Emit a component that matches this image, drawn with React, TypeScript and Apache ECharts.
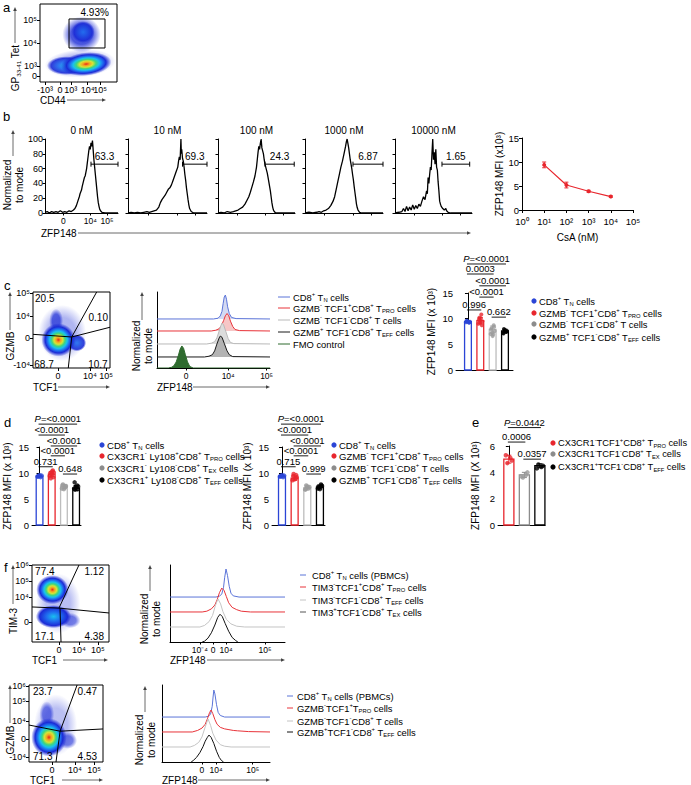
import React, { useEffect, useRef } from 'react';
import * as echarts from 'echarts';

const FONT = '"Liberation Sans", Arial, Helvetica, sans-serif';
const BLUE = '#2b45d6';
const RED = '#e8262d';
const GRAY_BAR = '#bdbdbd';
const GRAY_DOT = '#9b9b9b';
const BLACK = '#000000';
const JET = ['#1b2bd6', '#1f6ff0', '#19c0ee', '#3fd67c', '#d6e436', '#f6a01e', '#e6261c'];
const SUP = ['⁰', '¹', '²', '³', '⁴', '⁵', '⁶'];

type Tick = [number, string];

// ---------------- Panel a (flow) ----------------
const aXTicks: Tick[] = [[6.5, '-10³'], [26, '0'], [40, '10³'], [62, '10⁴'], [78, '10⁵'], [91, '10⁶']];
const aYTicks: Tick[] = [[7.7, '0'], [20.5, '10³'], [50, '10⁴'], [79.5, '10⁵']];
// density clusters: [cx, cy, w, h, peak level, rotation, alpha]
const aDensity = [
  [52, 24, 92, 36, 0, 4, 0.35],
  [54, 61, 50, 46, 0, 0, 0.8],
  [56, 64, 30, 28, 1, 0, 0.9],
  [34, 21, 50, 24, 2, 0, 0.9],
  [60, 23, 66, 30, 6, 6, 1],
];
const aGate = [37.7, 43.6, 84.4, 80.8];
const aGateLabel = [[71, 89, '4.93%']];

// ---------------- Panel b ----------------
const bTitles = ['0 nM', '10 nM', '100 nM', '1000 nM', '10000 nM'];
const bXTicks: Tick[] = [[25, '0'], [62, '10⁴'], [85, '10⁵']];
const bHist0 = [[0, 1], [3, 2], [6, 0], [9, 2], [12, 1], [15, 2], [18, 1], [21, 3], [24, 1], [27, 2], [30, 1], [33, 3], [36, 2], [39, 4], [41, 6], [43, 10], [45, 16], [47, 22], [48, 26], [50, 31], [51, 36], [52, 40], [53, 44], [54, 48], [55, 50], [56, 55], [57, 60], [58, 68], [59, 76], [60, 84], [61, 90], [62, 86], [63, 95], [64, 90], [65, 98], [65.5, 92], [66, 85], [67, 72], [68, 62], [69, 52], [70, 42], [71, 32], [72, 22], [73, 14], [74, 9], [75, 5], [76, 3], [78, 1], [82, 0], [100, 0]];
const bHist1 = [[0, 0], [4, 1], [8, 0], [12, 1], [16, 0], [20, 1], [24, 2], [27, 1], [30, 2], [33, 3], [36, 4], [39, 8], [41, 14], [43, 18], [45, 21], [47, 24], [49, 28], [51, 32], [53, 34], [55, 38], [57, 44], [59, 50], [61, 56], [63, 62], [64, 70], [65, 76], [66, 72], [67, 100], [67.5, 80], [68, 86], [69, 74], [70, 70], [71, 62], [72, 52], [73, 44], [74, 34], [75, 26], [76, 18], [77, 11], [78, 6], [80, 2], [83, 0], [100, 0]];
const bHist2 = [[0, 0], [4, 1], [8, 0], [12, 2], [16, 1], [20, 2], [23, 3], [26, 4], [29, 6], [32, 8], [35, 12], [38, 18], [40, 22], [42, 28], [44, 35], [46, 42], [48, 50], [50, 62], [51, 72], [52, 82], [53, 90], [54, 86], [55, 94], [56, 100], [57, 88], [58, 84], [59, 80], [60, 72], [61, 66], [62, 62], [63, 58], [64, 54], [65, 48], [66, 42], [67, 36], [68, 30], [69, 22], [70, 14], [71, 8], [72, 4], [73, 2], [75, 0], [100, 0]];
const bHist3 = [[0, 0], [5, 1], [10, 0], [15, 1], [18, 2], [21, 1], [24, 3], [27, 4], [30, 6], [33, 10], [36, 16], [38, 22], [40, 32], [42, 42], [44, 52], [46, 62], [48, 70], [50, 80], [52, 90], [53, 96], [54, 100], [55, 94], [56, 88], [57, 80], [58, 72], [59, 66], [60, 60], [61, 52], [62, 45], [63, 36], [64, 28], [65, 20], [66, 12], [67, 7], [68, 4], [70, 1], [73, 0], [100, 0]];
const bHist4 = [[0, 0], [5, 1], [9, 2], [11, 6], [13, 2], [15, 9], [17, 3], [19, 8], [21, 4], [23, 11], [25, 5], [27, 10], [29, 6], [31, 12], [33, 9], [35, 16], [37, 22], [39, 18], [41, 30], [42, 26], [43, 48], [44, 40], [45, 52], [46, 62], [47, 58], [48, 80], [49, 100], [50, 72], [51, 82], [52, 66], [53, 86], [54, 62], [55, 58], [56, 42], [57, 30], [58, 16], [59, 12], [60, 9], [62, 6], [64, 4], [66, 6], [67, 3], [69, 1], [72, 0], [100, 0]];
const bGateX1 = [63, 69, 61, 61.5, 61];
const bGateX2 = [100, 100, 99, 100, 97];
const bGateY = [66, 66, 66, 66, 66];
const bGateLabels = ['63.3', '69.3', '24.3', '6.87', '1.65'];

const bConc = [10, 100, 1000, 10000];
const bMFI = [9.4, 5.2, 3.9, 2.8];
const bSD = [0.6, 0.6, 0.2, 0.15];

// ---------------- Panel c ----------------
const cFlowXTicks: Tick[] = [[32.5, '0'], [74, '10⁴'], [95, '10⁵']];
const cFlowYTicks: Tick[] = [[4, '-10⁴'], [39.5, '0'], [68.4, '10⁴'], [98.7, '10⁵']];
const cDensity = [
  [38, 46, 62, 74, 0, 0, 0.35],
  [30, 62, 18, 32, 0, 0, 0.7],
  [57, 33, 24, 22, 1, 0, 0.9],
  [33, 37, 44, 44, 6, 0, 1],
];
const cGate = [[0, 44.3, 50.3, 40.8], [50.3, 40.8, 82.7, 100], [50.3, 40.8, 100, 53.6], [50.3, 40.8, 45.8, 0]];
const cQuad = [[2.6, 92, '20.5'], [97.4, 67, '0.10'], [1.7, 4, '68.7'], [97, 4, '10.7']];

const cHistXTicks: Tick[] = [[25.7, '0'], [63, '10⁴'], [97, '10⁵']];
const cBase = [64.5, 48.7, 31.6, 14.5, 0];
const cHistBlue = [[0, 0], [50, 0], [54, 1], [56, 4], [57.5, 10], [58.5, 20], [59.5, 29], [60.5, 31.5], [61.5, 26], [62.5, 16], [64, 7], [66, 2], [70, 0.5], [100, 0]];
const cHistRed = [[0, 0], [48, 0], [52, 1], [55, 3], [57, 7], [59, 14], [60.5, 20], [62, 23], [63.5, 20], [65, 13], [67, 6], [69, 2], [73, 0.5], [100, 0]];
const cHistGray = [[0, 0], [44, 0], [48, 1], [51, 3], [53, 8], [55, 17], [56.5, 24], [57.5, 27.5], [59, 25], [61, 16], [63, 7], [65, 2], [68, 0.5], [100, 0]];
const cHistBlack = [[0, 0], [42, 0], [46, 1], [49, 3], [51, 8], [53, 17], [55, 25], [56, 27.5], [57.5, 26], [59.5, 18], [62, 8], [64, 3], [67, 0.5], [100, 0]];
const cHistGreen = [[0, 0], [10, 0], [13, 1], [15, 3], [17, 8], [19, 17], [20.5, 25], [22, 29], [23.5, 26], [25, 18], [27, 8], [29, 2], [32, 0], [100, 0]];
const cHistLegend = ['CD8{sup|+} T{sub|N} cells', 'GZMB{sup|-} TCF1{sup|+}CD8{sup|+} T{sub|PRO} cells', 'GZMB{sup|-} TCF1{sup|-}CD8{sup|+} T cells', 'GZMB{sup|+} TCF1{sup|-}CD8{sup|+} T{sub|EFF} cells', 'FMO control'];

const cMeans = [9.4, 9.6, 7.9, 7.6];
const cSD = [0.15, 0.6, 0.7, 0.35];
const cPts = [
  [9.3, 9.4, 9.5, 9.2, 9.4, 9.6, 9.3, 9.5],
  [9.0, 9.5, 10.2, 10.8, 9.2, 9.8, 8.7, 9.6, 10.1],
  [7.0, 7.6, 8.2, 8.7, 6.6, 7.9, 8.4, 7.3, 6.9],
  [7.2, 7.6, 8.0, 7.4, 7.8, 7.1, 7.5, 7.7],
];
const cBrackets = [[0, 3, 20.65, 'P=<0.0001'], [0, 2, 18.7, '0.0003'], [1, 3, 16.4, '<0.0001'], [1, 2, 14.2, '<0.0001'], [0, 1, 11.7, '0.996'], [2, 3, 10.3, '0.662']];
const cBarLegend = ['CD8{sup|+} T{sub|N} cells', 'GZMB{sup|-} TCF1{sup|+}CD8{sup|+} T{sub|PRO} cells', 'GZMB{sup|-} TCF1{sup|-}CD8{sup|+} T cells', 'GZMB{sup|+} TCF1{sup|-}CD8{sup|+} T{sub|EFF} cells'];

// ---------------- Panel d ----------------
const d1Means = [9.4, 9.8, 7.4, 7.1];
const d1SD = [0.15, 0.5, 0.4, 0.5];
const d1Pts = [
  [9.3, 9.5, 9.4, 9.2, 9.6, 9.4],
  [9.4, 10.1, 9.0, 10.5, 9.7, 10.0, 9.2, 9.9, 10.3],
  [7.0, 7.5, 7.8, 7.2, 6.9, 7.6, 7.4],
  [7.0, 7.4, 6.8, 7.6, 7.2, 8.2, 6.9, 7.3],
];
const d1Brackets = [[0, 3, 19.4, 'P=<0.0001'], [0, 2, 17.3, '<0.0001'], [1, 3, 15.2, '<0.0001'], [1, 2, 13.3, '<0.0001'], [0, 1, 11.2, '0.731'], [2, 3, 9.8, '0.648']];
const d1Legend = ['CD8{sup|+} T{sub|N} cells', 'CX3CR1{sup|-} Ly108{sup|+}CD8{sup|+} T{sub|PRO} cells', 'CX3CR1{sup|-} Ly108{sup|-}CD8{sup|+} T{sub|EX} cells', 'CX3CR1{sup|+} Ly108{sup|-}CD8{sup|+} T{sub|EFF} cells'];

const d2Means = [9.4, 9.0, 7.2, 7.3];
const d2SD = [0.15, 0.4, 0.3, 0.35];
const d2Pts = [
  [9.3, 9.5, 9.4, 9.2, 9.6, 9.4],
  [8.6, 9.2, 9.8, 9.0, 8.8, 9.4, 9.6],
  [6.8, 7.3, 7.6, 7.0, 7.4, 6.9],
  [7.0, 7.5, 7.2, 7.8, 6.9, 7.4, 7.6],
];
const d2Brackets = [[0, 3, 19.4, 'P=<0.0001'], [0, 2, 17.3, '<0.0001'], [1, 3, 15.2, '<0.0001'], [1, 2, 13.3, '<0.0001'], [0, 1, 11.2, '0.715'], [2, 3, 9.8, '0.999']];
const d2Legend = cBarLegend;

// ---------------- Panel e ----------------
const eMeans = [5.0, 3.8, 4.5];
const eSD = [0.3, 0.2, 0.15];
const ePts = [
  [5.3, 4.9, 4.7, 5.1],
  [3.7, 4.0, 3.6, 3.8],
  [4.3, 4.5, 4.6, 4.4],
];
const eBrackets = [[0, 2, 7.4, 'P=0.0442'], [0, 1, 6.3, '0.0006'], [1, 2, 5.0, '0.0357']];
const eLegend = ['CX3CR1{sup|-}TCF1{sup|+}CD8{sup|+} T{sub|PRO} cells', 'CX3CR1{sup|-}TCF1{sup|-}CD8{sup|+} T{sub|EX} cells', 'CX3CR1{sup|+}TCF1{sup|-}CD8{sup|+} T{sub|EFF} cells'];

// ---------------- Panel f ----------------
const fTopXTicks: Tick[] = [[35, '0'], [61, '10⁴'], [85.7, '10⁵']];
const fTopYTicks: Tick[] = [[26, '0'], [58.4, '10⁴'], [79, '10⁵'], [100, '10⁶']];
const fTopDensity = [
  [34, 50, 58, 78, 0, 0, 0.3],
  [50, 28, 26, 20, 0, 0, 0.6],
  [28, 33, 46, 30, 2, 0, 1],
  [26.5, 68, 42, 38, 6, 0, 1],
];
const fTopGate = [[0, 45.5, 35, 44], [35, 44, 100, 37.7], [35, 44, 61, 100], [36.4, 44, 37.7, 0]];
const fTopQuad = [[4, 91, '77.4'], [93.5, 91, '1.12'], [4, 6.5, '17.1'], [93.5, 6.5, '4.38']];
const fTopHistXTicks: Tick[] = [[26, '10⁻⁴'], [37.4, '0'], [48.7, '10⁴'], [82.6, '10⁵']];
const fBase = [58.4, 39, 19.5, 0];
const fTopBlue = [[0, 0], [40, 0], [43, 1], [45, 4], [46.5, 12], [47.5, 25], [48.7, 36.4], [50, 28], [51.5, 14], [53, 5], [55, 1.5], [60, 0], [100, 0]];
const fTopRed = [[0, 0], [28, 0], [32, 1], [36, 4], [39, 9], [41, 16], [43, 25], [45, 31], [47, 28], [49, 20], [51, 12], [54, 6], [58, 3], [62, 1], [70, 0], [100, 0]];
const fTopGray = [[0, 0], [26, 0], [30, 2], [34, 7], [37, 15], [39.5, 28], [41.7, 36.5], [44, 30], [46, 20], [49, 10], [53, 4], [58, 1], [65, 0], [100, 0]];
const fTopBlack = [[28, 0], [30, 1], [33, 5], [36, 12], [39, 22], [41.5, 32], [43.5, 36], [45.5, 33], [48, 24], [51, 14], [54, 6], [57, 2], [59, 0]];
const fTopLegend = ['CD8{sup|+} T{sub|N} cells (PBMCs)', 'TIM3{sup|-}TCF1{sup|+}CD8{sup|+} T{sub|PRO} cells', 'TIM3{sup|-}TCF1{sup|-}CD8{sup|+} T{sub|EFF} cells', 'TIM3{sup|+}TCF1{sup|-}CD8{sup|+} T{sub|EX} cells'];

const fBotXTicks: Tick[] = [[31, '0'], [62, '10⁴'], [88, '10⁵']];
const fBotYTicks: Tick[] = [[6.5, '-10⁴'], [30, '0'], [53, '10⁴'], [79, '10⁵'], [98.7, '10⁶']];
const fBotDensity = [
  [36, 48, 58, 80, 0, 0, 0.3],
  [24, 62, 20, 34, 0, 0, 0.6],
  [52, 28, 26, 22, 0, 0, 0.6],
  [27, 32, 48, 50, 6, 0, 1],
];
const fBotGate = [[0, 48, 42, 40], [42, 40, 100, 42.9], [42, 40, 65, 100], [42, 40, 36.5, 0]];
const fBotQuad = [[5.4, 91, '23.7'], [92, 91, '0.47'], [5.4, 6.5, '71.3'], [92, 6.5, '4.53']];
const fBotHistXTicks: Tick[] = [[27.8, '10⁻⁴'], [37, '0'], [50, '10⁴'], [84, '10⁵']];
const fBotBlue = [[0, 0], [40, 0], [43, 1], [45, 4], [46.5, 14], [47.3, 26], [48, 35], [49, 30], [50.5, 16], [52, 6], [54, 2], [58, 0], [100, 0]];
const fBotRed = [[0, 0], [28, 0], [33, 2], [37, 5], [40, 10], [42, 17], [44, 25], [45.4, 28.5], [47, 24], [49, 16], [51, 10], [54, 6], [58, 4], [62, 3], [66, 2], [70, 1.5], [75, 1], [80, 0.5], [100, 0]];
const fBotGray = [[0, 0], [26, 0], [30, 2], [34, 6], [37, 13], [40, 26], [42.6, 36.5], [45, 28], [47, 18], [50, 9], [54, 3], [58, 1], [64, 0], [100, 0]];
const fBotBlack = [[27, 0], [29, 2], [32, 6], [35, 12], [38, 20], [40, 27], [42, 32], [43.5, 35], [45.5, 32], [48, 24], [50.5, 14], [53, 6], [55, 2], [57, 0]];
const fBotLegend = ['CD8{sup|+} T{sub|N} cells (PBMCs)', 'GZMB{sup|-}TCF1{sup|+}T{sub|PRO} cells', 'GZMB{sup|-}TCF1{sup|-}CD8{sup|+} T cells', 'GZMB{sup|+}TCF1{sup|-}CD8{sup|+} T{sub|EFF} cells'];

// ------------------------------------------------------------
const JIT = [-0.3, 0.3, -0.15, 0.15, 0, -0.22, 0.22, -0.07, 0.07, 0.36, -0.36];

const tickFmt = (ticks: Tick[]) => (v: number) => {
  const t = ticks.find((k) => Math.abs(k[0] - v) < 1e-6);
  return t ? t[1] : '';
};

const RICH = (size: number) => ({
  sup: { fontSize: size * 0.62, lineHeight: 6, verticalAlign: 'top', fontFamily: FONT, fill: '#000', color: '#000' },
  sub: { fontSize: size * 0.62, lineHeight: 6, verticalAlign: 'bottom', fontFamily: FONT, fill: '#000', color: '#000' },
  i: { fontStyle: 'italic', fontSize: size, fontFamily: FONT, fill: '#000', color: '#000' },
});

const densityGradient = (peak: number) => {
  const stops: any[] = [];
  if (peak === 0) {
    stops.push({ offset: 0, color: JET[0] }, { offset: 0.55, color: JET[0] });
  } else {
    for (let l = peak; l >= 0; l--) {
      stops.push({ offset: ((peak - l) / peak) * 0.78, color: JET[l] });
    }
  }
  stops.push({ offset: 1, color: 'rgba(27,43,214,0)' });
  return { type: 'radial', x: 0.5, y: 0.5, r: 0.5, colorStops: stops };
};

function buildOption(): any {
  const grid: any[] = [];
  const xAxis: any[] = [];
  const yAxis: any[] = [];
  const series: any[] = [];
  const g: any[] = [];

  const addGrid = (left: number, top: number, width: number, height: number, xa: any, ya: any, border = false) => {
    const i = grid.length;
    grid.push({ left, top, width, height, show: border, borderColor: '#000', borderWidth: 1, containLabel: false });
    xAxis.push({ gridIndex: i, ...xa });
    yAxis.push({ gridIndex: i, ...ya });
    return i;
  };
  const lbl = (size = 9) => ({ fontSize: size, color: '#000', fontFamily: FONT });
  const flowAxis = (ticks: Tick[]) => ({
    type: 'value', min: 0, max: 100,
    axisLine: { show: false }, splitLine: { show: false },
    axisTick: { show: true, length: 3, customValues: ticks.map((t) => t[0]), lineStyle: { color: '#000' } },
    axisLabel: { show: true, margin: 3, customValues: ticks.map((t) => t[0]), formatter: tickFmt(ticks), ...lbl(9) },
  });
  const histX = (ticks: Tick[], labels: boolean) => ({
    type: 'value', min: 0, max: 100,
    axisLine: { show: true, lineStyle: { color: '#000', width: 1 } }, splitLine: { show: false },
    axisTick: { show: true, length: 2.5, customValues: ticks.map((t) => t[0]), lineStyle: { color: '#000' } },
    axisLabel: { show: labels, margin: 3, customValues: ticks.map((t) => t[0]), formatter: tickFmt(ticks), ...lbl(8.5) },
  });
  const histY = (labels: boolean, ticks: boolean) => ({
    type: 'value', min: 0, max: 100, interval: 20,
    axisLine: { show: true, lineStyle: { color: '#000', width: 1 } }, splitLine: { show: false },
    axisTick: { show: ticks, length: 2.5, lineStyle: { color: '#000' } },
    axisLabel: { show: labels, margin: 2, ...lbl(9) },
  });

  const segSeries = (gi: number, segs: number[][], color: string, width: number) => ({
    type: 'custom', xAxisIndex: gi, yAxisIndex: gi, silent: true, z: 6, clip: false,
    data: segs.map((s) => [s[0], s[1], s[2], s[3]]),
    renderItem: (p: any, api: any) => {
      const a = api.coord([api.value(0), api.value(1)]);
      const b = api.coord([api.value(2), api.value(3)]);
      return { type: 'line', shape: { x1: a[0], y1: a[1], x2: b[0], y2: b[1] }, style: { stroke: color, lineWidth: width } };
    },
  });
  const textSeries = (gi: number, items: any[], size: number, align?: string) => ({
    type: 'custom', xAxisIndex: gi, yAxisIndex: gi, silent: true, z: 8, clip: false,
    data: items.map((t) => [t[0], t[1]]),
    renderItem: (p: any, api: any) => {
      const it = items[p.dataIndex];
      const c = api.coord([api.value(0), api.value(1)]);
      const al = align || (it[0] < 50 ? 'left' : 'right');
      return { type: 'text', x: c[0], y: c[1], style: { text: it[2], fontSize: size, fontFamily: FONT, fill: '#000', align: al, verticalAlign: 'middle', textAlign: al, textVerticalAlign: 'middle' } };
    },
  });
  const densitySeries = (gi: number, dens: number[][], w: number, h: number) => ({
    type: 'scatter', xAxisIndex: gi, yAxisIndex: gi, silent: true, z: 2,
    data: dens.map((b) => ({
      value: [b[0], b[1]],
      symbolSize: [(b[2] * w) / 100, (b[3] * h) / 100],
      symbolRotate: b[5],
      itemStyle: { color: densityGradient(b[4]), opacity: b[6] },
    })),
  });
  const histLine = (gi: number, pts: number[][], color: string, base: number, fill: string | null, z: number, width = 1) => ({
    type: 'line', xAxisIndex: gi, yAxisIndex: gi, silent: true, symbol: 'none', showSymbol: false, z,
    data: pts.map((p) => [p[0], p[1] + base]),
    lineStyle: { color, width },
    areaStyle: fill ? { color: fill, opacity: 1, origin: base } : undefined,
  });

  const flowPlot = (left: number, top: number, w: number, h: number, xt: Tick[], yt: Tick[], dens: number[][], gates: number[][], quads: any[]) => {
    const gi = addGrid(left, top, w, h, flowAxis(xt), flowAxis(yt), true);
    series.push(densitySeries(gi, dens, w, h));
    series.push(segSeries(gi, gates, '#000', 1));
    series.push(textSeries(gi, quads, 10));
    return gi;
  };

  const barPanel = (cfg: any) => {
    const { left, top, width, height, xmin, xmax, ymax, interval, yName, nameGap, means, sds, pts, colors, dotColors, brackets, barW, sym } = cfg;
    const gi = addGrid(left, top, width, height,
      { type: 'value', min: xmin, max: xmax, axisLine: { show: true, lineStyle: { color: '#000' } }, axisTick: { show: false }, axisLabel: { show: false }, splitLine: { show: false } },
      {
        type: 'value', min: 0, max: ymax, interval,
        axisLine: { show: true, lineStyle: { color: '#000' } }, axisTick: { show: true, length: 3, lineStyle: { color: '#000' } },
        axisLabel: { margin: 3, ...lbl(9.5) }, splitLine: { show: false },
        name: yName, nameLocation: 'middle', nameGap, nameTextStyle: { ...lbl(10) },
      });
    series.push({
      type: 'custom', xAxisIndex: gi, yAxisIndex: gi, silent: true, z: 2, clip: false,
      data: means.map((m: number, i: number) => [i, m]),
      renderItem: (p: any, api: any) => {
        const i = api.value(0); const m = api.value(1);
        const a = api.coord([i - barW / 2, m]);
        const b = api.coord([i + barW / 2, 0]);
        return { type: 'rect', shape: { x: a[0], y: a[1], width: b[0] - a[0], height: b[1] - a[1] }, style: { fill: '#fff', stroke: colors[p.dataIndex], lineWidth: 1.3 } };
      },
    });
    series.push({
      type: 'custom', xAxisIndex: gi, yAxisIndex: gi, silent: true, z: 3, clip: false,
      data: means.map((m: number, i: number) => [i, m - sds[i], m + sds[i]]),
      renderItem: (p: any, api: any) => {
        const i = api.value(0);
        const lo = api.coord([i, api.value(1)]); const hi = api.coord([i, api.value(2)]);
        const c = colors[p.dataIndex];
        const cw = 2.5;
        return { type: 'group', children: [
          { type: 'line', shape: { x1: lo[0], y1: lo[1], x2: hi[0], y2: hi[1] }, style: { stroke: c, lineWidth: 1 } },
          { type: 'line', shape: { x1: lo[0] - cw, y1: lo[1], x2: lo[0] + cw, y2: lo[1] }, style: { stroke: c, lineWidth: 1 } },
          { type: 'line', shape: { x1: hi[0] - cw, y1: hi[1], x2: hi[0] + cw, y2: hi[1] }, style: { stroke: c, lineWidth: 1 } },
        ] };
      },
    });
    pts.forEach((arr: number[], gIdx: number) => {
      series.push({
        type: 'scatter', xAxisIndex: gi, yAxisIndex: gi, silent: true, z: 4, symbol: 'circle', symbolSize: sym,
        itemStyle: { color: dotColors[gIdx] },
        data: arr.map((v, k) => [gIdx + JIT[k % JIT.length] * barW, v]),
      });
    });
    series.push({
      type: 'custom', xAxisIndex: gi, yAxisIndex: gi, silent: true, z: 5, clip: false,
      data: brackets.map((b: any[]) => [b[0], b[2]]),
      renderItem: (p: any, api: any) => {
        const b = brackets[p.dataIndex];
        const a = api.coord([b[0], b[2]]); const c = api.coord([b[1], b[2]]);
        const s = b[3] as string;
        const t = s.startsWith('P=') ? '{i|P}' + s.slice(1) : s;
        return { type: 'group', children: [
          { type: 'line', shape: { x1: a[0] - 1, y1: a[1], x2: c[0] + 1, y2: c[1] }, style: { stroke: '#000', lineWidth: 0.9 } },
          { type: 'text', x: (a[0] + c[0]) / 2, y: a[1] - 0.5, style: { text: t, rich: RICH(9.5), fontSize: 9.5, fontFamily: FONT, fill: '#000', align: 'center', verticalAlign: 'bottom', textAlign: 'center', textVerticalAlign: 'bottom' } },
        ] };
      },
    });
    return gi;
  };

  // graphic helpers
  const txt = (x: number, y: number, text: string, size = 10, align = 'left', rot = 0) => ({
    type: 'text', x, y, rotation: rot, silent: true, z: 100,
    style: { text, fontSize: size, fontFamily: FONT, fill: '#000', align, verticalAlign: 'middle', textAlign: align, textVerticalAlign: 'middle', lineHeight: size + 2, rich: RICH(size) },
  });
  const arrowH = (x1: number, x2: number, y: number) => [
    { type: 'line', silent: true, z: 100, shape: { x1, y1: y, x2: x2 - 3, y2: y }, style: { stroke: '#444', lineWidth: 0.8 } },
    { type: 'polygon', silent: true, z: 100, shape: { points: [[x2, y], [x2 - 4, y - 1.8], [x2 - 4, y + 1.8]] }, style: { fill: '#444' } },
  ];
  const arrowV = (x: number, y1: number, y2: number) => [
    { type: 'line', silent: true, z: 100, shape: { x1: x, y1, x2: x, y2: y2 + 3 }, style: { stroke: '#444', lineWidth: 0.8 } },
    { type: 'polygon', silent: true, z: 100, shape: { points: [[x, y2], [x - 1.8, y2 + 4], [x + 1.8, y2 + 4]] }, style: { fill: '#444' } },
  ];
  const legendDots = (x: number, ys: number[], texts: string[], colors: string[], size = 9.4) => {
    ys.forEach((y, i) => {
      g.push({ type: 'circle', silent: true, z: 100, shape: { cx: x, cy: y, r: 2.6 }, style: { fill: colors[i] } });
      g.push(txt(x + 5, y, texts[i], size));
    });
  };
  const legendLines = (x1: number, x2: number, tx: number, ys: number[], texts: string[], colors: string[], size = 9.4) => {
    ys.forEach((y, i) => {
      g.push({ type: 'line', silent: true, z: 100, shape: { x1, y1: y, x2, y2: y }, style: { stroke: colors[i], lineWidth: 1 } });
      g.push(txt(tx, y, texts[i], size));
    });
  };

  // ===== Panel a =====
  const aG = flowPlot(40, 4, 77, 78, aXTicks, aYTicks, aDensity, [
    [aGate[0], aGate[1], aGate[2], aGate[1]], [aGate[2], aGate[1], aGate[2], aGate[3]],
    [aGate[2], aGate[3], aGate[0], aGate[3]], [aGate[0], aGate[3], aGate[0], aGate[1]],
  ], []);
  series.push(textSeries(aG, aGateLabel, 10, 'center'));
  g.push(txt(3, 7, 'a', 13));
  g.push(txt(40, 100, 'CD44', 10));
  g.push(...arrowH(67, 106, 100));
  g.push(txt(15, 68, 'GP{sub|33-41} Tet', 10, 'center', Math.PI / 2));
  g.push(...arrowV(15, 43, 7));

  // ===== Panel b histograms =====
  const bLefts = [45, 128, 218, 305, 395];
  const bWidths = [73, 79, 77, 78, 77];
  const bHists = [bHist0, bHist1, bHist2, bHist3, bHist4];
  bHists.forEach((h, k) => {
    const gi = addGrid(bLefts[k], 139, bWidths[k], 74, histX(bXTicks, k === 0), histY(k === 0, true));
    series.push(histLine(gi, h, '#000', 0, null, 3, 1.3));
    series.push({
      type: 'custom', xAxisIndex: gi, yAxisIndex: gi, silent: true, z: 5, clip: false,
      data: [[bGateX1[k], bGateY[k], bGateX2[k]]],
      renderItem: (p: any, api: any) => {
        const a = api.coord([api.value(0), api.value(1)]);
        const b = api.coord([api.value(2), api.value(1)]);
        return { type: 'group', children: [
          { type: 'line', shape: { x1: a[0], y1: a[1], x2: b[0], y2: b[1] }, style: { stroke: '#000', lineWidth: 1 } },
          { type: 'line', shape: { x1: a[0], y1: a[1] - 2.5, x2: a[0], y2: a[1] + 2.5 }, style: { stroke: '#000', lineWidth: 1 } },
          { type: 'line', shape: { x1: b[0], y1: b[1] - 2.5, x2: b[0], y2: b[1] + 2.5 }, style: { stroke: '#000', lineWidth: 1 } },
          { type: 'text', x: (a[0] + b[0]) / 2, y: a[1] - 3, style: { text: bGateLabels[k], fontSize: 10, fontFamily: FONT, fill: '#000', align: 'center', verticalAlign: 'bottom', textAlign: 'center', textVerticalAlign: 'bottom' } },
        ] };
      },
    });
    g.push(txt(bLefts[k] + bWidths[k] / 2, 130, bTitles[k], 10, 'center'));
  });
  g.push(txt(3, 116, 'b', 13));
  g.push(txt(13, 185, 'Normalized\nto mode', 10, 'center', Math.PI / 2));
  g.push(...arrowV(13, 156, 130));
  g.push(txt(41, 233, 'ZFP148', 10));
  g.push(...arrowH(78, 471, 233));

  // ===== Panel b line chart =====
  const bl = addGrid(522, 138, 111, 72,
    {
      type: 'log', logBase: 10, min: 1, max: 100000,
      axisLine: { show: true, lineStyle: { color: '#000' } }, axisTick: { show: true, length: 3, lineStyle: { color: '#000' } },
      axisLabel: { margin: 6, formatter: (v: number) => '10' + SUP[Math.round(Math.log10(v))], ...lbl(9.5) },
      splitLine: { show: false }, minorTick: { show: false },
      name: 'CsA (nM)', nameLocation: 'middle', nameGap: 22, nameTextStyle: { ...lbl(10) },
    },
    {
      type: 'value', min: 0, max: 15, interval: 5,
      axisLine: { show: true, lineStyle: { color: '#000' } }, axisTick: { show: true, length: 3, lineStyle: { color: '#000' } },
      axisLabel: { margin: 3, ...lbl(9.5) }, splitLine: { show: false },
      name: 'ZFP148 MFI (x10³)', nameLocation: 'middle', nameGap: 18, nameTextStyle: { ...lbl(10) },
    });
  series.push({
    type: 'line', xAxisIndex: bl, yAxisIndex: bl, silent: true, z: 3,
    data: bConc.map((c, i) => [c, bMFI[i]]),
    symbol: 'circle', symbolSize: 4, lineStyle: { color: RED, width: 1.2 }, itemStyle: { color: RED },
  });
  series.push({
    type: 'custom', xAxisIndex: bl, yAxisIndex: bl, silent: true, z: 4, clip: false,
    data: bConc.map((c, i) => [c, bMFI[i] - bSD[i], bMFI[i] + bSD[i]]),
    renderItem: (p: any, api: any) => {
      const lo = api.coord([api.value(0), api.value(1)]);
      const hi = api.coord([api.value(0), api.value(2)]);
      return { type: 'group', children: [
        { type: 'line', shape: { x1: lo[0], y1: lo[1], x2: hi[0], y2: hi[1] }, style: { stroke: RED, lineWidth: 1 } },
        { type: 'line', shape: { x1: lo[0] - 2, y1: lo[1], x2: lo[0] + 2, y2: lo[1] }, style: { stroke: RED, lineWidth: 1 } },
        { type: 'line', shape: { x1: hi[0] - 2, y1: hi[1], x2: hi[0] + 2, y2: hi[1] }, style: { stroke: RED, lineWidth: 1 } },
      ] };
    },
  });

  // ===== Panel c =====
  g.push(txt(4, 285, 'c', 13));
  flowPlot(33, 292, 77, 76, cFlowXTicks, cFlowYTicks, cDensity, cGate, cQuad);
  g.push(txt(33, 387, 'TCF1', 10));
  g.push(...arrowH(58, 110, 387));
  g.push(txt(10, 346, 'GZMB', 10, 'center', Math.PI / 2));
  g.push(...arrowV(10, 330, 292));

  const ch = addGrid(157, 292, 113, 76, histX(cHistXTicks, true), { ...histY(false, false) });
  const cCurves = [cHistBlue, cHistRed, cHistGray, cHistBlack, cHistGreen];
  const cLineCol = ['#5b74d8', '#e8343a', '#b9b9b9', '#1a1a1a', '#2f6b2f'];
  const cFillCol = ['#d3d9f2', '#f6c6c6', '#dcdcdc', '#b3b3b3', '#2f6b2f'];
  cCurves.forEach((cv, k) => series.push(histLine(ch, cv, cLineCol[k], cBase[k], cFillCol[k], 3 + k, 1)));
  g.push(txt(142, 346, 'Normalized\nto mode', 10, 'center', Math.PI / 2));
  g.push(...arrowV(142, 320, 292));
  g.push(txt(157, 387, 'ZFP148', 10));
  g.push(...arrowH(193, 270, 387));
  legendLines(278, 290, 293, [297, 308, 320, 332, 344], cHistLegend, ['#5b74d8', '#e8343a', '#b9b9b9', '#1a1a1a', '#2f6b2f']);

  barPanel({
    left: 456, top: 293, width: 57, height: 77, xmin: -0.97, xmax: 3.65, ymax: 15, interval: 5,
    yName: 'ZFP148 MFI (x 10³)', nameGap: 20, means: cMeans, sds: cSD, pts: cPts,
    colors: [BLUE, RED, GRAY_BAR, BLACK], dotColors: [BLUE, RED, GRAY_DOT, BLACK], brackets: cBrackets, barW: 0.55, sym: 4,
  });
  legendDots(534, [301, 313, 324, 337], cBarLegend, [BLUE, RED, '#8c8c8c', BLACK]);

  // ===== Panel d =====
  g.push(txt(4, 422, 'd', 13));
  barPanel({
    left: 32, top: 447, width: 49, height: 78, xmin: -0.62, xmax: 3.4, ymax: 15, interval: 5,
    yName: 'ZFP148 MFI (x 10³)', nameGap: 20, means: d1Means, sds: d1SD, pts: d1Pts,
    colors: [BLUE, RED, GRAY_BAR, BLACK], dotColors: [BLUE, RED, GRAY_DOT, BLACK], brackets: d1Brackets, barW: 0.55, sym: 4.5,
  });
  legendDots(102, [445, 456, 468, 480], d1Legend, [BLUE, RED, '#8c8c8c', BLACK], 9.6);
  barPanel({
    left: 272, top: 447, width: 53, height: 78, xmin: -0.79, xmax: 3.4, ymax: 15, interval: 5,
    yName: 'ZFP148 MFI (x 10³)', nameGap: 20, means: d2Means, sds: d2SD, pts: d2Pts,
    colors: [BLUE, RED, GRAY_BAR, BLACK], dotColors: [BLUE, RED, GRAY_DOT, BLACK], brackets: d2Brackets, barW: 0.55, sym: 4.5,
  });
  legendDots(334, [445, 456, 468, 480], d2Legend, [BLUE, RED, '#8c8c8c', BLACK], 9.5);

  // ===== Panel e =====
  g.push(txt(472, 422, 'e', 13));
  barPanel({
    left: 498, top: 446, width: 47, height: 79, xmin: -0.7, xmax: 2.33, ymax: 6, interval: 2,
    yName: 'ZFP148 MFI (X 10³)', nameGap: 18, means: eMeans, sds: eSD, pts: ePts,
    colors: [RED, '#8c8c8c', BLACK], dotColors: [RED, GRAY_DOT, BLACK], brackets: eBrackets, barW: 0.65, sym: 4.5,
  });
  legendDots(553, [443, 454, 467], eLegend, [RED, '#8c8c8c', BLACK], 9.3);

  // ===== Panel f top =====
  g.push(txt(4, 567, 'f', 13));
  flowPlot(32, 565, 77, 77, fTopXTicks, fTopYTicks, fTopDensity, fTopGate, fTopQuad);
  g.push(txt(32, 660, 'TCF1', 10));
  g.push(...arrowH(63, 108, 660));
  g.push(txt(13, 621, 'TIM-3', 10, 'center', Math.PI / 2));
  g.push(...arrowV(13, 604, 565));
  const ft = addGrid(170, 565, 115, 77, histX(fTopHistXTicks, true), histY(false, false));
  const fTopCurves = [fTopBlue, fTopRed, fTopGray, fTopBlack];
  const fCols = ['#5b74d8', '#e8343a', '#c4c4c4', '#111111'];
  fTopCurves.forEach((cv, k) => series.push(histLine(ft, cv, fCols[k], fBase[k], null, 3 + k, 1)));
  g.push(txt(150, 619, 'Normalized\nto mode', 10, 'center', Math.PI / 2));
  g.push(...arrowV(150, 591, 565));
  g.push(txt(170, 660, 'ZFP148', 10));
  g.push(...arrowH(207, 285, 660));
  legendLines(300, 306, 312, [575, 587, 600, 612], fTopLegend, ['#5b74d8', '#e8343a', '#c4c4c4', '#555555']);

  // ===== Panel f bottom =====
  flowPlot(29, 685, 74, 77, fBotXTicks, fBotYTicks, fBotDensity, fBotGate, fBotQuad);
  g.push(txt(30, 780, 'TCF1', 10));
  g.push(...arrowH(62, 103, 780));
  g.push(txt(10, 740, 'GZMB', 10, 'center', Math.PI / 2));
  g.push(...arrowV(10, 723, 685));
  const fb = addGrid(162, 685, 108, 77, histX(fBotHistXTicks, true), histY(false, false));
  const fBotCurves = [fBotBlue, fBotRed, fBotGray, fBotBlack];
  fBotCurves.forEach((cv, k) => series.push(histLine(fb, cv, fCols[k], fBase[k], null, 3 + k, 1)));
  g.push(txt(145, 740, 'Normalized\nto mode', 10, 'center', Math.PI / 2));
  g.push(...arrowV(145, 712, 686));
  g.push(txt(162, 780, 'ZFP148', 10));
  g.push(...arrowH(198, 270, 780));
  legendLines(287, 293, 297, [696, 708, 721, 732], fBotLegend, ['#5b74d8', '#e8343a', '#c4c4c4', '#111111']);

  return {
    animation: false,
    backgroundColor: '#fff',
    textStyle: { fontFamily: FONT },
    grid, xAxis, yAxis, series,
    graphic: { elements: g },
  };
}

export default function App() {
  const ref = useRef<HTMLDivElement>(null);
  useEffect(() => {
    if (!ref.current) return;
    const chart = echarts.init(ref.current, undefined, { renderer: 'svg', width: 691, height: 785 });
    chart.setOption(buildOption());
    return () => chart.dispose();
  }, []);
  return <div ref={ref} style={{ position: 'absolute', left: 0, top: 0, width: 691, height: 785, background: '#fff' }} />;
}
